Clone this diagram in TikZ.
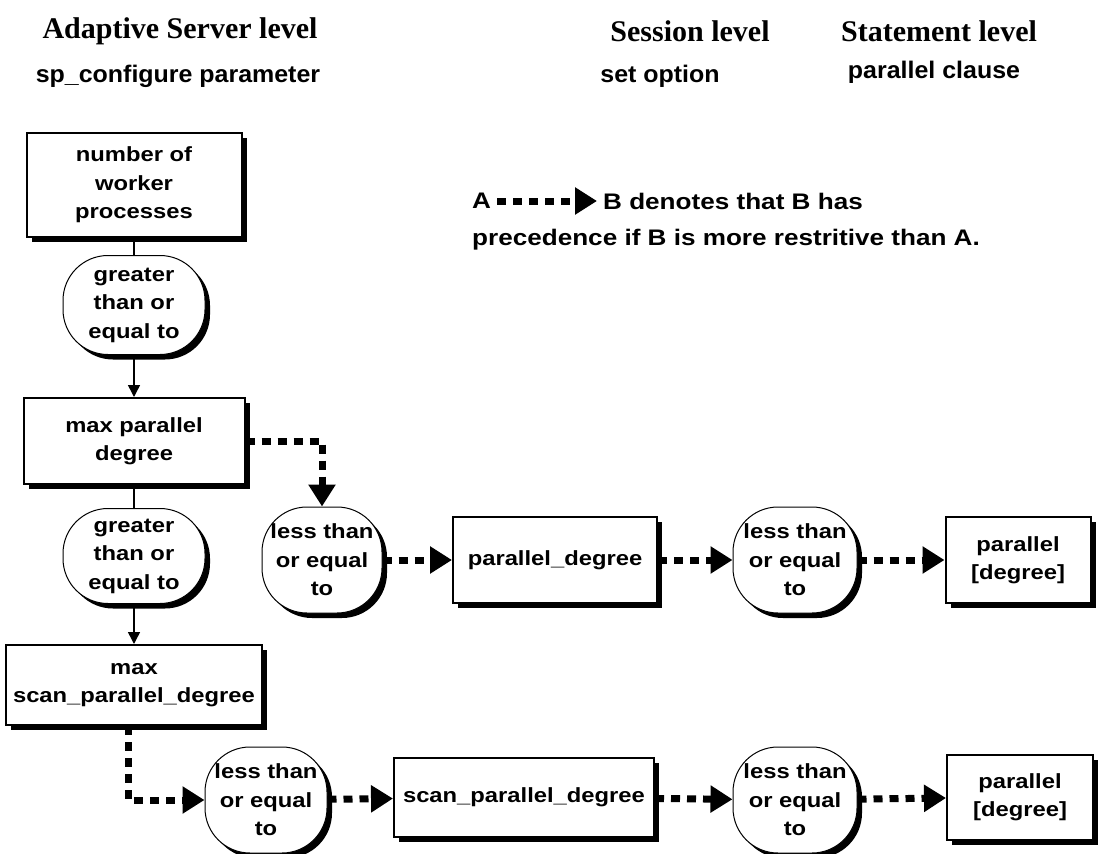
\documentclass[tikz,border=0pt]{standalone}
\usepackage{fontspec}
\setmainfont{Liberation Sans}[FakeStretch=1.16]
\newfontfamily\titlefont{Liberation Serif}
\newfontfamily\subfont{Liberation Sans}[FakeStretch=1.04]
\usetikzlibrary{shadows,arrows.meta}

\newcommand\boxfnt{\bfseries\fontsize{20.5}{28.5}\selectfont}

\tikzset{
  shadowed/.style={drop shadow={shadow xshift=5pt, shadow yshift=-5pt, fill=black, opacity=1}},
  box/.style={draw, line width=2pt, fill=white, align=center, font=\boxfnt, shadowed},
  cmp/.style={draw, line width=1pt, fill=white, align=center, font=\boxfnt,
    rounded corners=45pt, inner sep=0pt, shadowed},
  level/.style={font=\titlefont\bfseries\fontsize{30}{34}\selectfont},
  source/.style={font=\subfont\bfseries\fontsize{24}{28}\selectfont},
  legend/.style={font=\bfseries\fontsize{22.5}{26}\selectfont, inner sep=6pt},
  line/.style={line width=1.5pt},
  arrow/.style={line width=1.5pt, -{Triangle[length=12pt,width=12pt]}},
  dotarrow/.style={line width=7pt, dash pattern=on 9pt off 7pt,
    -{Triangle[length=22pt,width=26pt]}}
}

\begin{document}
\begin{tikzpicture}[x=1pt,y=-1pt]
  \useasboundingbox (0,0) rectangle (1099,853);

  % column headings
  \node[level] (asl) at (180,31) {Adaptive Server level};
  \node[level] (sesl) at (690,31) {Session level};
  \node[level] (stml) at (939,31) {Statement level};
  \node[source] (spc) at (178,76) {sp\_configure parameter};
  \node[source] (seto) at (660,76) {set option};
  \node[source] (pcl) at (934,72) {parallel clause};

  % legend
  \node[legend, anchor=west] (legA) at (466,201) {A};
  \node[legend, anchor=west] (legB) at (597,201) {B denotes that B has};
  \node[legend, anchor=west] (legC) at (466,240) {precedence if B is more restritive than A.};
  \draw[dotarrow] (legA) -- (legB);

  % server level
  \node[box, minimum width=215pt, minimum height=103pt] (nwp) at (134,185)
    {number of\\worker\\processes};
  \node[cmp, minimum width=142pt, minimum height=99pt] (geA) at (134,305)
    {greater\\than or\\equal to};
  \node[box, minimum width=221pt, minimum height=86pt] (mpd) at (134,441)
    {max parallel\\degree};
  \node[cmp, minimum width=142pt, minimum height=95pt] (geB) at (134,556)
    {greater\\than or\\equal to};
  \node[box, minimum width=256pt, minimum height=80pt] (mspd) at (134,685)
    {max\\scan\_parallel\_degree};

  % session and statement level
  \node[cmp, minimum width=120pt, minimum height=106pt] (leA) at (322,560)
    {less than\\or equal\\to};
  \node[box, minimum width=204pt, minimum height=86pt] (pd) at (555,560)
    {parallel\_degree};
  \node[cmp, minimum width=124pt, minimum height=106pt] (leB) at (795,560)
    {less than\\or equal\\to};
  \node[box, minimum width=145pt, minimum height=86pt] (pstA) at (1018,560)
    {parallel\\{[degree]}};

  \node[cmp, minimum width=122pt, minimum height=106pt] (leC) at (266,800)
    {less than\\or equal\\to};
  \node[box, minimum width=260pt, minimum height=79pt] (spd) at (524,797)
    {scan\_parallel\_degree};
  \node[cmp, minimum width=124pt, minimum height=106pt] (leD) at (795,800)
    {less than\\or equal\\to};
  \node[box, minimum width=146pt, minimum height=85pt] (pstB) at (1020,797)
    {parallel\\{[degree]}};

  % connectors
  \draw[line] (nwp) -- (geA);
  \draw[arrow] (geA) -- (mpd);
  \draw[line] (mpd) -- (geB);
  \draw[arrow] (geB) -- (mspd);

  \draw[dotarrow] (mpd.east) -| (leA.north);
  \draw[dotarrow] (leA) -- (pd);
  \draw[dotarrow] (pd) -- (leB);
  \draw[dotarrow] (leB) -- (pstA);

  \draw[dotarrow] ([xshift=-6pt]mspd.south) |- (leC.west);
  \draw[dotarrow] (leC) -- (spd);
  \draw[dotarrow] (spd) -- (leD);
  \draw[dotarrow] (leD) -- (pstB);
\end{tikzpicture}
\end{document}
